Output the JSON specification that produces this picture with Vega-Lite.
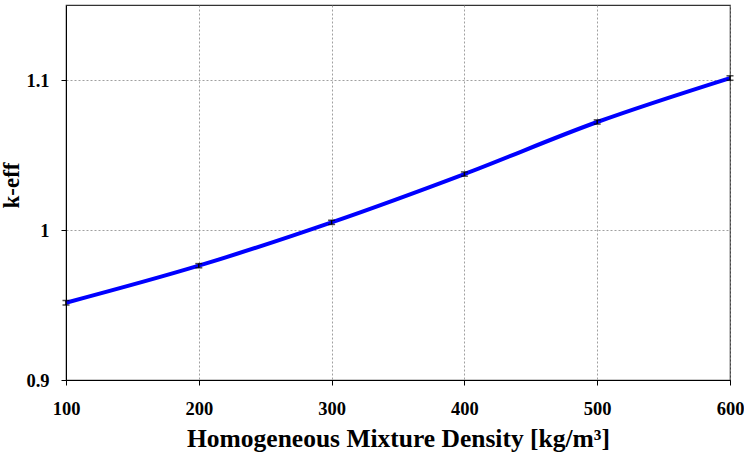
{
  "$schema": "https://vega.github.io/schema/vega-lite/v6.json",
  "width": 664,
  "height": 375,
  "autosize": "none",
  "padding": {"left": 66, "top": 5, "right": 14, "bottom": 77},
  "background": "white",
  "config": {
    "view": {"stroke": "#333333", "strokeWidth": 1.2},
    "axis": {
      "labelFont": "Liberation Serif",
      "labelFontWeight": "bold",
      "labelFontSize": 18.5,
      "labelColor": "black",
      "labelFlush": false,
      "titleFont": "Liberation Serif",
      "titleFontWeight": "bold",
      "titleColor": "black",
      "domainColor": "black",
      "tickColor": "black",
      "tickSize": 5,
      "gridColor": "#888888",
      "gridDash": [2, 2],
      "gridWidth": 0.8
    }
  },
  "data": {
    "values": [
      {"density": 100, "k": 0.9515, "lo": 0.9500, "hi": 0.9530},
      {"density": 200, "k": 0.9762, "lo": 0.9748, "hi": 0.9776},
      {"density": 300, "k": 1.0051, "lo": 1.0037, "hi": 1.0065},
      {"density": 400, "k": 1.0373, "lo": 1.0359, "hi": 1.0387},
      {"density": 500, "k": 1.0720, "lo": 1.0706, "hi": 1.0734},
      {"density": 600, "k": 1.1013, "lo": 1.0998, "hi": 1.1028}
    ]
  },
  "layer": [
    {
      "mark": {"type": "line", "color": "#0000FF", "strokeWidth": 4, "interpolate": "monotone"},
      "encoding": {
        "x": {
          "field": "density", "type": "quantitative",
          "scale": {"domain": [100, 600], "nice": false, "zero": false},
          "axis": {
            "values": [100, 200, 300, 400, 500, 600],
            "title": "Homogeneous Mixture Density [kg/m³]",
            "titleFontSize": 25.5,
            "titlePadding": 9,
            "labelPadding": 14,
            "grid": true
          }
        },
        "y": {
          "field": "k", "type": "quantitative",
          "scale": {"domain": [0.9, 1.15], "nice": false, "zero": false},
          "axis": {
            "values": [0.9, 1.0, 1.1],
            "format": ".2~f",
            "title": "k-eff",
            "titleFontSize": 23,
            "titlePadding": 2,
            "titleY": 180,
            "labelPadding": 12,
            "grid": true
          }
        }
      }
    },
    {
      "mark": {"type": "rule", "color": "black", "strokeWidth": 1.5},
      "encoding": {
        "x": {"field": "density", "type": "quantitative"},
        "y": {"field": "lo", "type": "quantitative"},
        "y2": {"field": "hi"}
      }
    },
    {
      "mark": {"type": "tick", "color": "black", "orient": "horizontal", "size": 7, "thickness": 1.5},
      "encoding": {
        "x": {"field": "density", "type": "quantitative"},
        "y": {"field": "lo", "type": "quantitative"}
      }
    },
    {
      "mark": {"type": "tick", "color": "black", "orient": "horizontal", "size": 7, "thickness": 1.5},
      "encoding": {
        "x": {"field": "density", "type": "quantitative"},
        "y": {"field": "hi", "type": "quantitative"}
      }
    }
  ]
}
